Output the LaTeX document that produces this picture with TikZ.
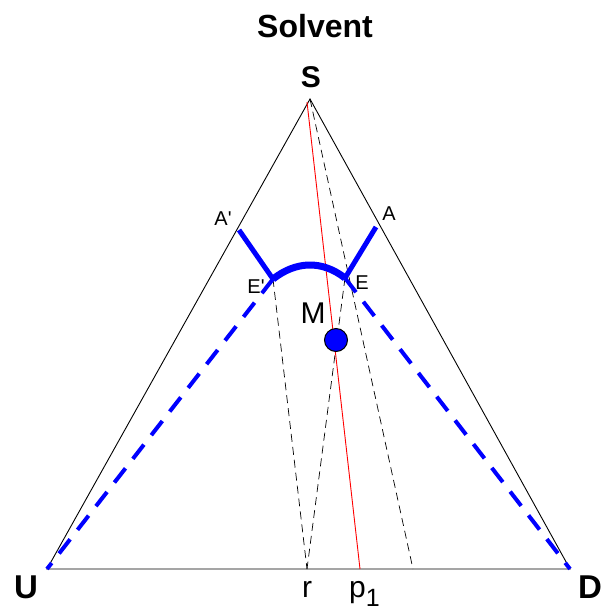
\documentclass[tikz,border=0pt]{standalone}
\usepackage{fontspec}
\setmainfont{Liberation Sans}
\begin{document}
\begin{tikzpicture}[x=1pt,y=-1pt,
  lbl/.style={inner sep=0pt,font=\fontsize{20}{22}\selectfont},
  biglbl/.style={inner sep=0pt,font=\fontsize{30}{32}\selectfont},
  boldlbl/.style={inner sep=0pt,font=\bfseries\fontsize{33}{35}\selectfont},
  thindash/.style={draw=black,line width=0.7pt,dash pattern=on 8pt off 5pt},
  bluedash/.style={draw=blue,line width=4pt,dash pattern=on 18pt off 12pt},
  bluesolid/.style={draw=blue,line width=5pt},
]
\useasboundingbox (0,0) rectangle (604,614);
% vertices
\coordinate (S) at (310,99);
\coordinate (U) at (47,569);
\coordinate (D) at (570,569);
\coordinate (Ap) at (239,230);
\coordinate (A) at (376,227);
\coordinate (Ep) at (273,279);
\coordinate (E) at (345,278);
\coordinate (r) at (307,569);
\coordinate (p) at (360,569);
\coordinate (q) at (413,569);
\coordinate (Sr) at (307,102);
% triangle
\draw[line width=0.9pt,line join=miter] (S) -- (U) -- (D) -- cycle;
% thin lines
\draw[red,line width=0.9pt] (Sr) -- (p);
\draw[thindash] (S) -- (q);
\draw[thindash] (Ep) -- (r);
\draw[thindash] (E) -- (r);
% blue curves
\draw[bluedash] (Ep) -- (U);
\draw[bluedash] (E) -- (D);
\draw[bluesolid] (Ap) -- (Ep);
\draw[bluesolid] (E) -- (A);
\draw[draw=blue,line width=7pt] (Ep) .. controls (296,261) and (322,260) .. (E);
% mixture point
\node[circle,draw=black,fill=blue,line width=1pt,minimum size=23pt,inner sep=0pt] (M) at (336,340) {};
% labels
\node[inner sep=0pt,font=\bfseries\fontsize{32}{34}\selectfont] (title) at (315,26) {Solvent};
\node[inner sep=0pt,font=\bfseries\fontsize{30}{32}\selectfont] (Sl) at (311,77) {S};
\node[boldlbl] (Ul) at (26,587) {U};
\node[boldlbl] (Dl) at (590,587) {D};
\node[lbl] (Apl) at (223,219) {A\textquotesingle};
\node[lbl] (Al) at (389,214) {A};
\node[lbl] (Epl) at (256,287) {E\textquotesingle};
\node[lbl] (El) at (362,283) {E};
\node[biglbl] (Ml) at (313,313) {M};
\node[biglbl,anchor=base] (rl) at (307,597) {r};
\node[biglbl,anchor=base west] (pl) at (349,597) {p\raisebox{-9pt}{\fontsize{25}{25}\selectfont 1}};
\end{tikzpicture}
\end{document}
